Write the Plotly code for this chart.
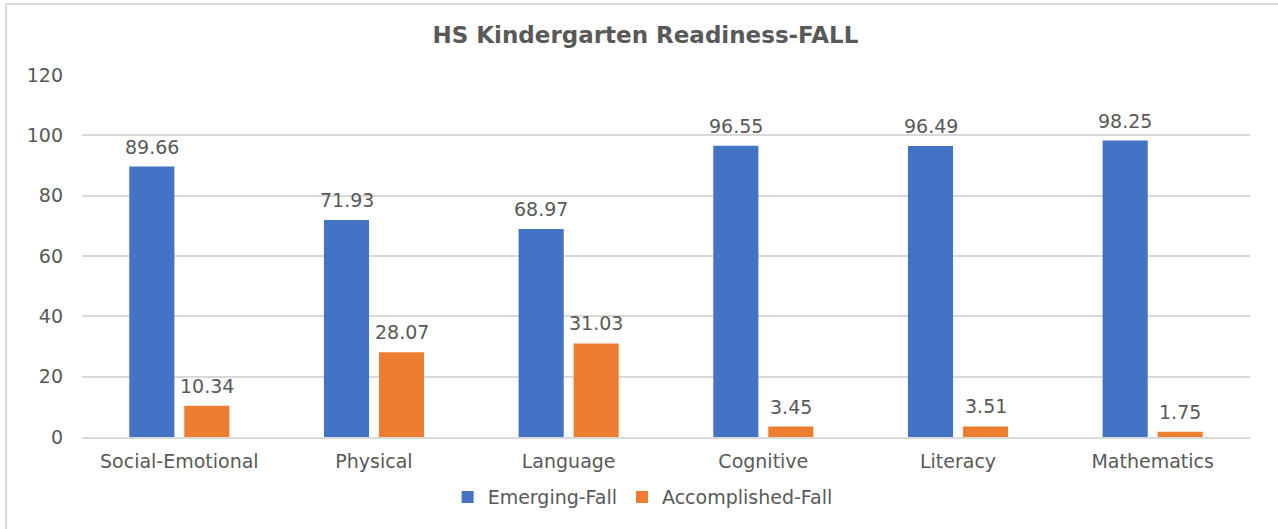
import plotly.graph_objects as go

categories = ["Social-Emotional", "Physical", "Language", "Cognitive", "Literacy", "Mathematics"]
emerging = [89.66, 71.93, 68.97, 96.55, 96.49, 98.25]
accomplished = [10.34, 28.07, 31.03, 3.45, 3.51, 1.75]
y_ticks = [0, 20, 40, 60, 80, 100, 120]

FONT = "DejaVu Sans"
GRAY = "#595959"
GRID = "#D9D9D9"
FS = 19

fig = go.Figure()
fig.add_trace(go.Bar(
    name="Emerging-Fall", x=categories, y=emerging,
    marker=dict(color="#4472C4", line=dict(width=0)),
))
fig.add_trace(go.Bar(
    name="Accomplished-Fall", x=categories, y=accomplished,
    marker=dict(color="#ED7D31", line=dict(width=0)),
))

annotations = []
for series, shift in ((emerging, -27.5), (accomplished, 27.5)):
    for cat, v in zip(categories, series):
        annotations.append(dict(
            x=cat, y=v, xref="x", yref="y", text=f"{v:.2f}", showarrow=False,
            xanchor="center", yanchor="bottom", xshift=shift, yshift=7,
            font=dict(family=FONT, size=FS, color=GRAY),
        ))

fig.update_layout(
    width=1278, height=529,
    paper_bgcolor="white", plot_bgcolor="white",
    margin=dict(l=82, r=28, t=75, b=92),
    barmode="group", bargap=0.435, bargroupgap=0.18,
    title=dict(text="<b>HS Kindergarten Readiness-FALL</b>", x=0.505, xanchor="center",
               y=1 - 35 / 529, yanchor="middle",
               font=dict(family=FONT, size=23, color=GRAY)),
    font=dict(family=FONT, size=FS, color=GRAY),
    legend=dict(orientation="h", x=0.48, xanchor="center", y=-0.166, yanchor="middle",
                font=dict(family=FONT, size=FS, color=GRAY)),
    xaxis=dict(showgrid=False, showline=True, linecolor=GRID, linewidth=2,
               ticks="", ticklabelstandoff=6,
               tickfont=dict(family=FONT, size=FS, color=GRAY)),
    yaxis=dict(range=[0, 120], tickvals=y_ticks, showgrid=True, gridcolor=GRID,
               gridwidth=2, zeroline=False, showline=False, ticks="",
               ticklabelstandoff=18,
               tickfont=dict(family=FONT, size=FS, color=GRAY)),
    annotations=annotations,
    shapes=[
        dict(type="line", xref="paper", yref="paper", x0=-0.065, x1=1.1, y0=1.196, y1=1.196,
             line=dict(color=GRID, width=2)),
        dict(type="line", xref="paper", yref="paper", x0=-0.065, x1=-0.065, y0=-0.3, y1=1.196,
             line=dict(color=GRID, width=2)),
    ],
)

fig.write_html("out.html", config={"displayModeBar": False},
               post_script="document.body.style.margin='0';")
